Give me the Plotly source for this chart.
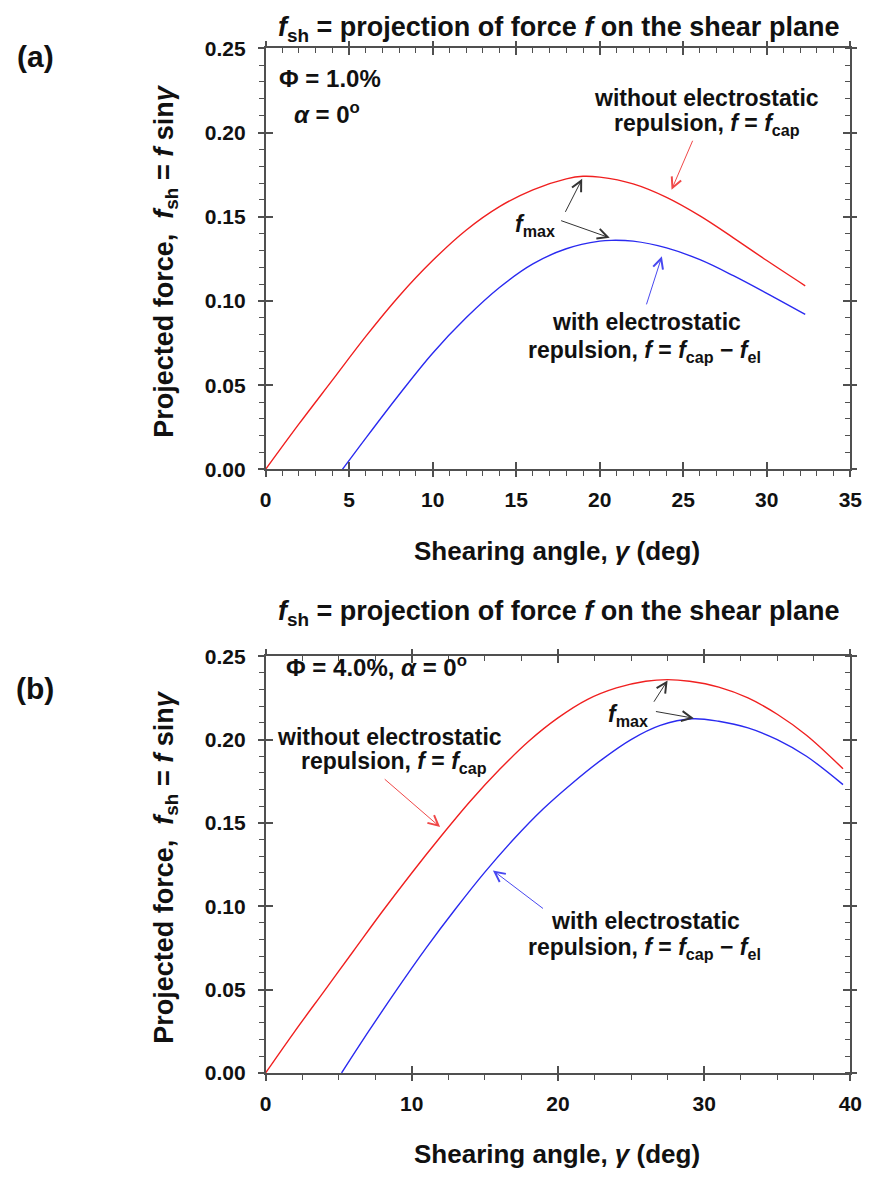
import plotly.graph_objects as go

# ---------------- data ----------------
a_gamma_red = [0, 2, 4, 6, 8, 10, 12, 14, 16, 18, 19, 20, 22, 24, 26, 28, 30, 32.3]
a_red = [0, 0.027, 0.053, 0.079, 0.103, 0.124, 0.142, 0.156, 0.166, 0.1725, 0.174,
         0.1735, 0.1695, 0.1615, 0.1505, 0.1375, 0.124, 0.109]
a_gamma_blue = [4.6, 6, 8, 10, 12, 14, 16, 18, 20, 20.7, 22, 24, 26, 28, 30, 32.3]
a_blue = [0, 0.0186, 0.0445, 0.069, 0.090, 0.108, 0.122, 0.131, 0.1355, 0.136,
          0.1355, 0.1315, 0.1245, 0.115, 0.1045, 0.092]

b_gamma_red = [0, 2, 4, 6, 8, 10, 12, 14, 16, 18, 20, 22, 24, 26, 27.5, 29, 31, 33, 35, 37, 39.5]
b_red = [0, 0.025, 0.049, 0.073, 0.097, 0.120, 0.142, 0.163, 0.182, 0.199, 0.213,
         0.224, 0.231, 0.235, 0.236, 0.235, 0.2315, 0.225, 0.2152, 0.2026, 0.1825]
b_gamma_blue = [5.2, 7, 9, 11, 13, 15, 17, 19, 21, 23, 25, 27, 29.2, 31, 33, 35, 37, 39.5]
b_blue = [0, 0.0243, 0.0503, 0.0752, 0.0985, 0.1205, 0.1405, 0.1585, 0.174, 0.188, 0.200,
          0.2085, 0.2125, 0.211, 0.207, 0.200, 0.190, 0.173]

x_range_a = [0, 35]
x_range_b = [0, 40]
y_range = [0, 0.25]
x_dtick_a = 5
x_dtick_b = 10
x_minor_a = 1
x_minor_b = 2.5
y_dtick = 0.05
y_minor = 0.01

panel_labels = ["(a)", "(b)"]
title_text = "<i>f</i><sub>sh</sub> = projection of force <i>f</i> on the shear plane"
xtitle_text = "Shearing angle, <i>γ</i> (deg)"
ytitle_text = "Projected force,  <i>f</i><sub>sh</sub> = <i>f</i> sin<i>γ</i>"

# ---------------- style ----------------
FONT = "Liberation Sans, Arial, sans-serif"
AX = "#505050"
RED = "#f02020"
BLUE = "#2a2af0"
W, H = 878, 1184

xdom = [265 / W, 862 / W]
ydom_a = [1 - 466.5 / H, 1 - 37 / H]
ydom_b = [1 - 1082 / H, 1 - 657 / H]

fig = go.Figure()
fig.add_trace(go.Scatter(x=a_gamma_red, y=a_red, mode="lines", line=dict(color=RED, width=1.4, shape="spline"),
                         xaxis="x", yaxis="y", showlegend=False))
fig.add_trace(go.Scatter(x=a_gamma_blue, y=a_blue, mode="lines", line=dict(color=BLUE, width=1.4, shape="spline"),
                         xaxis="x", yaxis="y", showlegend=False))
fig.add_trace(go.Scatter(x=b_gamma_red, y=b_red, mode="lines", line=dict(color=RED, width=1.4, shape="spline"),
                         xaxis="x2", yaxis="y2", showlegend=False))
fig.add_trace(go.Scatter(x=b_gamma_blue, y=b_blue, mode="lines", line=dict(color=BLUE, width=1.4, shape="spline"),
                         xaxis="x2", yaxis="y2", showlegend=False))
# empty traces so the overlay (tick-only) axes are drawn
for xa, ya in [("x3", "y3"), ("x5", "y5"), ("x4", "y4"), ("x6", "y6")]:
    fig.add_trace(go.Scatter(x=[], y=[], mode="lines", xaxis=xa, yaxis=ya, showlegend=False, hoverinfo="skip"))

tickfont = dict(family=FONT, size=21, color="#111", weight="bold")


def main_x(rng, dt, mdt, anchor):
    return dict(domain=xdom, range=rng, anchor=anchor, showline=True, linecolor=AX, linewidth=1.5,
                mirror=True, ticks="outside", ticklen=6, tickwidth=1.5, tickcolor=AX, dtick=dt, tick0=0,
                minor=dict(ticks="outside", ticklen=5, tickwidth=1, tickcolor=AX, dtick=mdt, tick0=0),
                showgrid=False, zeroline=False, tickfont=tickfont, ticklabelstandoff=5)


def main_y(dom, anchor):
    return dict(domain=dom, range=y_range, anchor=anchor, showline=True, linecolor=AX, linewidth=1.5,
                mirror=True, ticks="outside", ticklen=6, tickwidth=1.5, tickcolor=AX, dtick=y_dtick, tick0=0,
                minor=dict(ticks="outside", ticklen=5, tickwidth=1, tickcolor=AX, dtick=y_minor, tick0=0),
                showgrid=False, zeroline=False, tickfont=tickfont, tickformat=".2f", ticklabelstandoff=8)


def inner_x(rng, dt, over, anchor):
    return dict(overlaying=over, anchor=anchor, range=rng, showline=False, ticks="inside", ticklen=7,
                tickwidth=1.5, tickcolor=AX, dtick=dt, tick0=0, mirror="ticks", showticklabels=False,
                showgrid=False, zeroline=False)


def top_x(rng, dt, mdt, over, anchor):
    return dict(overlaying=over, anchor=anchor, side="top", range=rng, showline=False, ticks="outside",
                ticklen=6, tickwidth=1.5, tickcolor=AX, dtick=dt, tick0=0, showticklabels=False,
                minor=dict(ticks="inside", ticklen=5, tickwidth=1, tickcolor=AX, dtick=mdt, tick0=0),
                showgrid=False, zeroline=False)


def inner_y(over, anchor):
    return dict(overlaying=over, anchor=anchor, range=y_range, showline=False, ticks="inside", ticklen=7,
                tickwidth=1.5, tickcolor=AX, dtick=y_dtick, tick0=0, mirror="ticks", showticklabels=False,
                showgrid=False, zeroline=False)


def right_y(over, anchor):
    return dict(overlaying=over, anchor=anchor, side="right", range=y_range, showline=False, ticks="outside",
                ticklen=6, tickwidth=1.5, tickcolor=AX, dtick=y_dtick, tick0=0, showticklabels=False,
                minor=dict(ticks="inside", ticklen=5, tickwidth=1, tickcolor=AX, dtick=y_minor, tick0=0),
                showgrid=False, zeroline=False)


fig.update_layout(
    width=W, height=H, margin=dict(l=0, r=0, t=0, b=0),
    paper_bgcolor="white", plot_bgcolor="white", showlegend=False,
    xaxis=main_x(x_range_a, x_dtick_a, x_minor_a, "y"),
    yaxis=main_y(ydom_a, "x"),
    xaxis2=main_x(x_range_b, x_dtick_b, x_minor_b, "y2"),
    yaxis2=main_y(ydom_b, "x2"),
    xaxis3=inner_x(x_range_a, x_dtick_a, "x", "y3"),
    yaxis3=inner_y("y", "x3"),
    xaxis4=inner_x(x_range_b, x_dtick_b, "x2", "y4"),
    yaxis4=inner_y("y2", "x4"),
    xaxis5=top_x(x_range_a, x_dtick_a, x_minor_a, "x", "y5"),
    yaxis5=right_y("y", "x5"),
    xaxis6=top_x(x_range_b, x_dtick_b, x_minor_b, "x2", "y6"),
    yaxis6=right_y("y2", "x6"),
)

ann = []


def ptext(text, x, y, size, xanchor="center", angle=0):
    ann.append(dict(text=text, xref="paper", yref="paper", x=x, y=y, xanchor=xanchor, yanchor="middle",
                    showarrow=False, textangle=angle,
                    font=dict(family=FONT, size=size, color="#111", weight="bold")))


def dtext(text, x, y, xr, yr, size=23, xanchor="center"):
    ann.append(dict(text=text, xref=xr, yref=yr, x=x, y=y, xanchor=xanchor, yanchor="middle",
                    showarrow=False, font=dict(family=FONT, size=size, color="#111", weight="bold")))


def arrow(x0, y0, x1, y1, xr, yr, color):
    ann.append(dict(text="", xref=xr, yref=yr, axref=xr, ayref=yr, x=x1, y=y1, ax=x0, ay=y0,
                    showarrow=True, arrowhead=5, arrowsize=2.0, arrowwidth=1, arrowcolor=color))


# panel titles, axis titles, labels
ptext(title_text, 564 / W, 1 - 17 / H, 27)
ptext(title_text, 564 / W, 1 - 613 / H, 27)
ptext(xtitle_text, 563 / W, 1 - 550 / H, 26)
ptext(xtitle_text, 563 / W, 1 - 1165 / H, 26)
ptext(ytitle_text, 163 / W, 1 - 254 / H, 27, angle=-90)
ptext(ytitle_text, 163 / W, 1 - 872 / H, 27, angle=-90)
ptext(panel_labels[0], 30 / W, 1 - 45 / H, 30)
ptext(panel_labels[1], 30 / W, 1 - 690 / H, 30)

# panel (a) annotations
dtext("Φ = 1.0%", 3.85, 0.2322, "x", "y", size=24)
dtext("<i>α</i> = 0<sup>o</sup>", 3.65, 0.2118, "x", "y", size=24)
dtext("without electrostatic", 26.4, 0.2206, "x", "y")
dtext("repulsion, <i>f</i> = <i>f</i><sub>cap</sub>", 26.45, 0.2048, "x", "y")
dtext("<i>f</i><sub>max</sub>", 16.1, 0.145, "x", "y")
dtext("with electrostatic", 22.8, 0.0873, "x", "y")
dtext("repulsion, <i>f</i> = <i>f</i><sub>cap</sub> − <i>f</i><sub>el</sub>", 22.7, 0.0698, "x", "y")
arrow(25.6, 0.196, 24.3, 0.166, "x", "y", "#f04848")
arrow(17.9, 0.152, 18.95, 0.1725, "x", "y", "#333333")
arrow(17.6, 0.148, 20.6, 0.1375, "x", "y", "#333333")
arrow(22.77, 0.0971, 23.72, 0.1265, "x", "y", "#4848f0")

# panel (b) annotations
dtext("Φ = 4.0%, <i>α</i> = 0<sup>o</sup>", 7.6, 0.244, "x2", "y2", size=24)
dtext("without electrostatic", 8.5, 0.2018, "x2", "y2")
dtext("repulsion, <i>f</i> = <i>f</i><sub>cap</sub>", 8.8, 0.1865, "x2", "y2")
dtext("<i>f</i><sub>max</sub>", 24.8, 0.2147, "x2", "y2")
dtext("with electrostatic", 26.0, 0.0914, "x2", "y2")
dtext("repulsion, <i>f</i> = <i>f</i><sub>cap</sub> − <i>f</i><sub>el</sub>", 25.95, 0.0747, "x2", "y2")
arrow(8.05, 0.177, 11.94, 0.1475, "x2", "y2", "#f04848")
arrow(26.5, 0.2218, 27.5, 0.2355, "x2", "y2", "#333333")
arrow(26.6, 0.217, 29.3, 0.2128, "x2", "y2", "#333333")
arrow(19.08, 0.098, 15.55, 0.1215, "x2", "y2", "#4848f0")

fig.update_layout(annotations=ann)
fig.write_html("out.html")
